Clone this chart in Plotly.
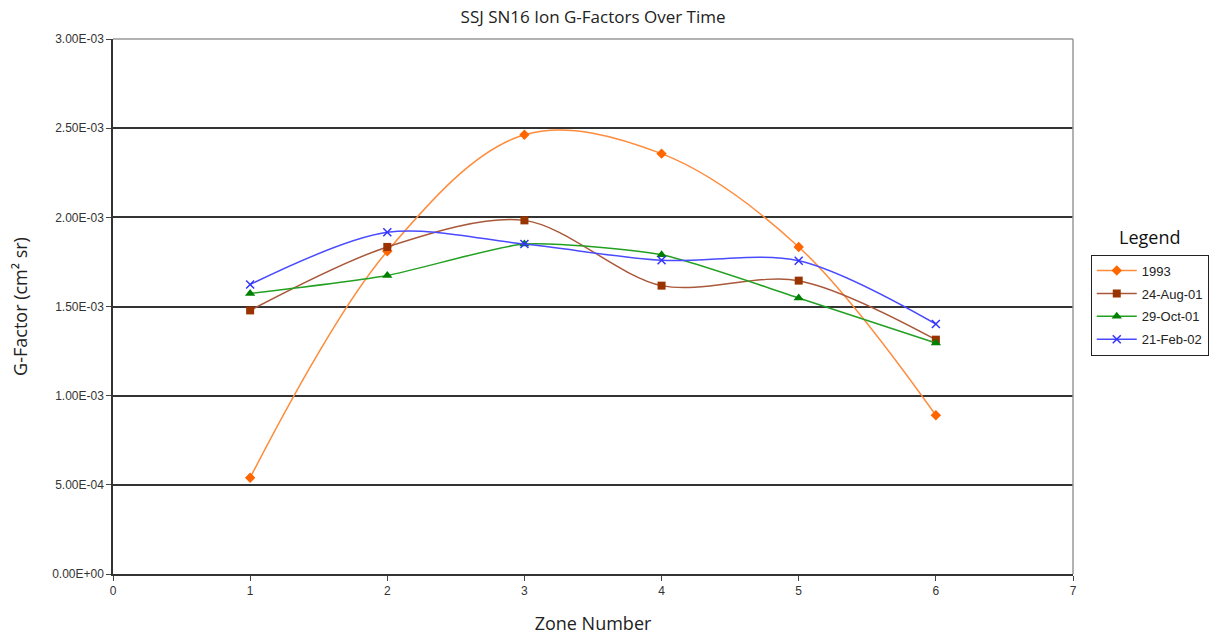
import plotly.graph_objects as go

zones = [1, 2, 3, 4, 5, 6]
g1993 = [5.40e-4, 1.810e-3, 2.463e-3, 2.357e-3, 1.834e-3, 8.90e-4]
g_aug01 = [1.478e-3, 1.834e-3, 1.983e-3, 1.617e-3, 1.645e-3, 1.314e-3]
g_oct01 = [1.573e-3, 1.674e-3, 1.850e-3, 1.790e-3, 1.548e-3, 1.295e-3]
g_feb02 = [1.623e-3, 1.916e-3, 1.850e-3, 1.759e-3, 1.757e-3, 1.402e-3]

series_names = ["1993", "24-Aug-01", "29-Oct-01", "21-Feb-02"]
y_tickvals = [0, 5e-4, 1e-3, 1.5e-3, 2e-3, 2.5e-3, 3e-3]
y_ticktext = ["0.00E+00", "5.00E-04", "1.00E-03", "1.50E-03", "2.00E-03", "2.50E-03", "3.00E-03"]
x_tickvals = [0, 1, 2, 3, 4, 5, 6, 7]

styles = [
    dict(line="#FF8C3C", marker="#FF6600", symbol="diamond", size=8, smooth=1.0),
    dict(line="#A9583A", marker="#993300", symbol="square", size=8, smooth=0.9),
    dict(line="#22A022", marker="#008000", symbol="triangle-up", size=9, smooth=0.6),
    dict(line="#4A4AFF", marker="#3333FF", symbol="x-thin", size=8, smooth=0.9),
]

fig = go.Figure()
for name, vals, st in zip(series_names, [g1993, g_aug01, g_oct01, g_feb02], styles):
    marker = dict(symbol=st["symbol"], size=st["size"], color=st["marker"])
    if st["symbol"] == "x-thin":
        marker["line"] = dict(color=st["marker"], width=1.5)
    fig.add_trace(go.Scatter(
        x=zones, y=vals, name=name, mode="lines+markers", legendgroup=name,
        line=dict(color=st["line"], width=1.5, shape="spline", smoothing=st["smooth"]),
        marker=marker,
    ))

fig.update_layout(
    width=1214, height=635,
    margin=dict(l=113, r=141, t=39, b=61, autoexpand=False),
    paper_bgcolor="white", plot_bgcolor="white",
    title=dict(text="SSJ SN16 Ion G-Factors Over Time", x=0.4885, xanchor="center",
               y=0.973, yanchor="middle",
               font=dict(family="Open Sans", size=17, color="#222")),
    xaxis=dict(range=[0, 7], tickvals=x_tickvals, ticks="outside", ticklen=5,
               tickcolor="#444", showgrid=False, zeroline=False, automargin=False,
               showline=True, linecolor="#333", linewidth=1.5,
               tickfont=dict(family="Liberation Sans", size=12, color="#333"),
               title=dict(text="Zone Number", standoff=20,
                          font=dict(family="Open Sans", size=18, color="#222"))),
    yaxis=dict(range=[0, 3e-3], tickvals=y_tickvals, ticktext=y_ticktext,
               ticks="outside", ticklen=5, tickcolor="#444", automargin=False,
               showgrid=True, gridcolor="#333", gridwidth=1.5, zeroline=False,
               showline=True, linecolor="#333", linewidth=1.5,
               tickfont=dict(family="Liberation Sans", size=12, color="#333"),
               title=dict(text="G-Factor (cm² sr)", standoff=20,
                          font=dict(family="Open Sans", size=18, color="#222"))),
    legend=dict(x=1.0185, xanchor="left", y=0.597, yanchor="top",
                bordercolor="#222", borderwidth=1, bgcolor="white",
                font=dict(family="Liberation Sans", size=13, color="#222"),
                tracegroupgap=3, itemwidth=40),
    showlegend=True,
)

fig.add_shape(type="line", xref="paper", yref="paper", x0=1, x1=1, y0=0, y1=1,
              line=dict(color="#999", width=1.5))
fig.add_shape(type="line", xref="paper", yref="paper", x0=0, x1=1, y0=1, y1=1,
              line=dict(color="#999", width=1.5))

fig.add_annotation(text="Legend", xref="paper", yref="paper", x=1.0795, y=0.603,
                   xanchor="center", yanchor="bottom", showarrow=False,
                   font=dict(family="Open Sans", size=18, color="#111"))

fig.write_html("out.html")
